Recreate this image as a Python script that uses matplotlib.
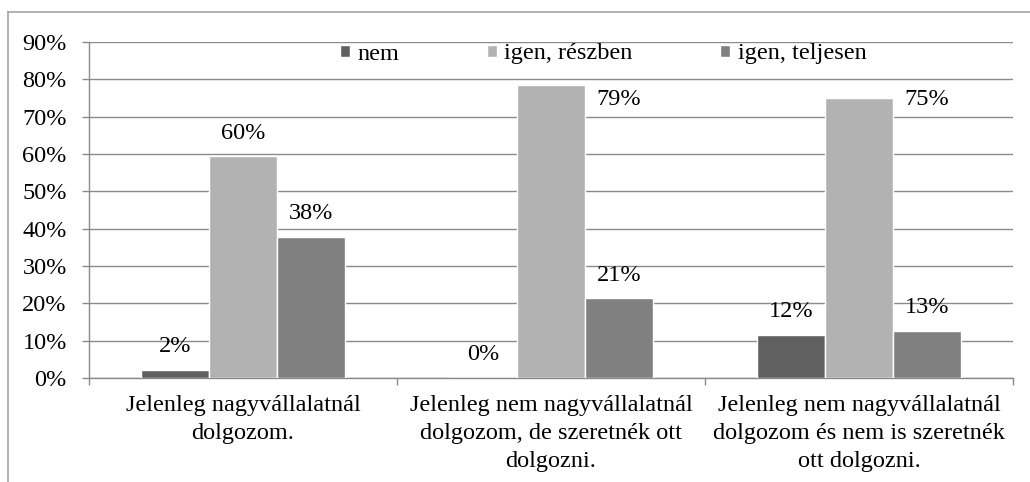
import matplotlib
matplotlib.use("Agg")
import matplotlib.pyplot as plt
from matplotlib.lines import Line2D
import numpy as np

categories = ["Jelenleg nagyvállalatnál\ndolgozom.",
              "Jelenleg nem nagyvállalatnál\ndolgozom, de szeretnék ott\ndolgozni.",
              "Jelenleg nem nagyvállalatnál\ndolgozom és nem is szeretnék\nott dolgozni."]
series_names = ["nem", "igen, részben", "igen, teljesen"]
nem = [2.2, 0.0, 11.5]
igen_reszben = [59.4, 78.6, 75.0]
igen_teljesen = [37.9, 21.3, 12.7]
label_texts = [["2%", "0%", "12%"], ["60%", "79%", "75%"], ["38%", "21%", "13%"]]
yticks = [0, 10, 20, 30, 40, 50, 60, 70, 80, 90]
ytick_labels = ["0%", "10%", "20%", "30%", "40%", "50%", "60%", "70%", "80%", "90%"]

colors = ["#606060", "#b2b2b2", "#808080"]
grid_c = "#8a8a8a"

plt.rcParams['font.family'] = ['Liberation Serif', 'DejaVu Serif']
fs = 17.5

fig = plt.figure(figsize=(10.30, 4.82), dpi=100)
ax = fig.add_axes([89/1030, 1-378/482, (1013-89)/1030, (378-42)/482])

x = np.arange(len(categories))
w = 0.2205
data = [nem, igen_reszben, igen_teljesen]
for i, (vals, name, c) in enumerate(zip(data, series_names, colors)):
    ax.bar(x + (i-1)*w, vals, width=w, color=c, edgecolor="white",
           linewidth=1.0, label=name, zorder=3)

# data labels
for i, vals in enumerate(data):
    for j, v in enumerate(vals):
        xpos = x[j] + (i-1)*w
        ypos = v + 6.2
        if ypos > 72:  # labels that would collide with the legend are moved right
            xpos += w
            ypos = 74.5
        ax.text(xpos, ypos, label_texts[i][j], ha="center", va="center",
                fontsize=fs, color="black", zorder=4)

ax.set_xlim(-0.5, 2.5)
ax.set_ylim(0, 90)
ax.set_yticks(yticks)
ax.set_yticklabels(ytick_labels, fontsize=fs)
ax.yaxis.grid(True, color=grid_c, linewidth=1.0, zorder=0)
ax.set_axisbelow(True)

ax.set_xticks(x)
ax.set_xticklabels(categories, fontsize=fs, linespacing=1.45)
ax.set_xticks([-0.5, 0.5, 1.5, 2.5], minor=True)
ax.tick_params(axis="x", which="major", length=0, pad=12)
ax.tick_params(axis="x", which="minor", length=5, color=grid_c, width=1.0)
ax.tick_params(axis="y", length=5, color=grid_c, width=1.0, pad=11)

for s in ["top", "right"]:
    ax.spines[s].set_visible(False)
for s in ["left", "bottom"]:
    ax.spines[s].set_color(grid_c)
    ax.spines[s].set_linewidth(1.0)

leg = ax.legend(loc="center", bbox_to_anchor=(603/1030, 1-54/482),
                bbox_transform=fig.transFigure, ncol=3, frameon=False,
                fontsize=fs, handlelength=0.42, handleheight=0.42,
                handletextpad=0.3, columnspacing=3.6)

# outer chart border (top and left)
fig.add_artist(Line2D([8/1030, 1.0], [1-12/482, 1-12/482], transform=fig.transFigure,
                      color="#a6a6a6", linewidth=1.2))
fig.add_artist(Line2D([8/1030, 8/1030], [0, 1-12/482], transform=fig.transFigure,
                      color="#a6a6a6", linewidth=1.2))

fig.savefig("out.png", dpi=100)
